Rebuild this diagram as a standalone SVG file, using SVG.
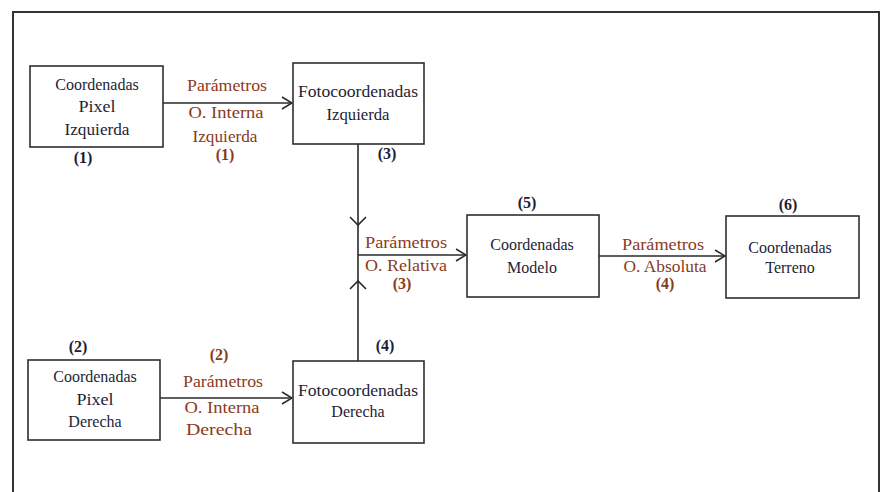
<svg xmlns="http://www.w3.org/2000/svg" width="882" height="492" viewBox="0 0 882 492">
  <defs>
    <marker id="chev" viewBox="0 0 12 14" refX="11" refY="7" markerWidth="12" markerHeight="14" markerUnits="userSpaceOnUse" orient="auto">
      <path d="M1,1 L11,7 L1,13" fill="none" stroke="#2a2a2a" stroke-width="1.5"/>
    </marker>
    <style>
      .box { fill: #ffffff; stroke: #2e2e2e; stroke-width: 1.6; }
      .line { fill: none; stroke: #2a2a2a; stroke-width: 1.6; }
      .t { font-family: "Liberation Serif", "Times New Roman", serif; font-size: 16px; fill: #1e1e36; text-anchor: middle; }
      .p { font-family: "Liberation Serif", "Times New Roman", serif; font-size: 16px; fill: #8a3a22; text-anchor: middle; }
      .n { font-family: "Liberation Serif", "Times New Roman", serif; font-size: 16px; font-weight: bold; fill: #1e1e36; text-anchor: middle; }
      .pn { font-family: "Liberation Serif", "Times New Roman", serif; font-size: 16px; font-weight: bold; fill: #8a3a22; text-anchor: middle; }
    </style>
  </defs>

  <!-- outer frame -->
  <rect x="13" y="12" width="866" height="500" fill="#ffffff" stroke="#333333" stroke-width="2"/>

  <!-- connectors and their labels -->
  <g id="connectors">
    <line class="line" x1="163" y1="103" x2="292" y2="103" marker-end="url(#chev)"/>
    <line class="line" x1="160" y1="398" x2="292" y2="398" marker-end="url(#chev)"/>
    <line class="line" x1="358" y1="144" x2="358" y2="361"/>
    <path class="line" d="M350,217 L358,225 L366,217"/>
    <path class="line" d="M350,289 L358,281 L366,289"/>
    <line class="line" x1="358" y1="255" x2="466" y2="255" marker-end="url(#chev)"/>
    <line class="line" x1="599" y1="256" x2="725" y2="256" marker-end="url(#chev)"/>

    <text class="p" x="227" y="91" textLength="80" lengthAdjust="spacingAndGlyphs">Parámetros</text>
    <text class="p" x="226" y="118" textLength="75" lengthAdjust="spacingAndGlyphs">O. Interna</text>
    <text class="p" x="225" y="142" textLength="65" lengthAdjust="spacingAndGlyphs">Izquierda</text>
    <text class="pn" x="225" y="160">(1)</text>

    <text class="pn" x="219" y="360">(2)</text>
    <text class="p" x="223" y="387" textLength="80" lengthAdjust="spacingAndGlyphs">Parámetros</text>
    <text class="p" x="222" y="413" textLength="75" lengthAdjust="spacingAndGlyphs">O. Interna</text>
    <text class="p" x="219" y="435" textLength="66" lengthAdjust="spacingAndGlyphs">Derecha</text>

    <text class="p" x="406" y="248" textLength="82" lengthAdjust="spacingAndGlyphs">Parámetros</text>
    <text class="p" x="406" y="271" textLength="82" lengthAdjust="spacingAndGlyphs">O. Relativa</text>
    <text class="pn" x="402" y="289">(3)</text>

    <text class="p" x="663" y="250" textLength="82" lengthAdjust="spacingAndGlyphs">Parámetros</text>
    <text class="p" x="665" y="272" textLength="83" lengthAdjust="spacingAndGlyphs">O. Absoluta</text>
    <text class="pn" x="665" y="289">(4)</text>
  </g>

  <g id="pixel-izquierda">
    <rect class="box" x="30" y="66" width="133" height="81"/>
    <text class="t" x="97" y="90">Coordenadas</text>
    <text class="t" x="97" y="112" textLength="37" lengthAdjust="spacingAndGlyphs">Pixel</text>
    <text class="t" x="97" y="135" textLength="65" lengthAdjust="spacingAndGlyphs">Izquierda</text>
    <text class="n" x="83" y="163">(1)</text>
  </g>

  <g id="foto-izquierda">
    <rect class="box" x="293" y="63" width="131" height="81"/>
    <text class="t" x="358" y="97" textLength="120" lengthAdjust="spacingAndGlyphs">Fotocoordenadas</text>
    <text class="t" x="358" y="120" textLength="63" lengthAdjust="spacingAndGlyphs">Izquierda</text>
    <text class="n" x="387" y="159">(3)</text>
  </g>

  <g id="modelo">
    <rect class="box" x="467" y="215" width="132" height="82"/>
    <text class="n" x="527" y="208">(5)</text>
    <text class="t" x="532" y="250">Coordenadas</text>
    <text class="t" x="532" y="273">Modelo</text>
  </g>

  <g id="terreno">
    <rect class="box" x="726" y="216" width="133" height="82"/>
    <text class="n" x="788" y="210">(6)</text>
    <text class="t" x="790" y="253">Coordenadas</text>
    <text class="t" x="790" y="273">Terreno</text>
  </g>

  <g id="pixel-derecha">
    <rect class="box" x="28" y="360" width="132" height="80"/>
    <text class="n" x="78" y="352">(2)</text>
    <text class="t" x="95" y="382">Coordenadas</text>
    <text class="t" x="95" y="405" textLength="37" lengthAdjust="spacingAndGlyphs">Pixel</text>
    <text class="t" x="95" y="427">Derecha</text>
  </g>

  <g id="foto-derecha">
    <rect class="box" x="293" y="361" width="131" height="82"/>
    <text class="n" x="385" y="351">(4)</text>
    <text class="t" x="358" y="396" textLength="120" lengthAdjust="spacingAndGlyphs">Fotocoordenadas</text>
    <text class="t" x="358" y="417">Derecha</text>
  </g>
</svg>
